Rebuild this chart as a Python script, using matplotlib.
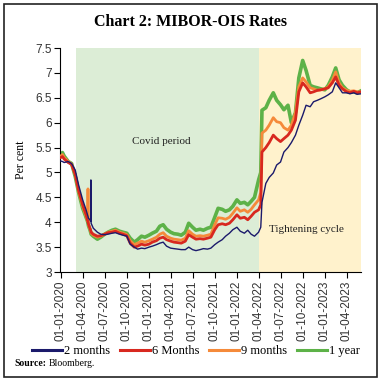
import pandas as pd
import matplotlib
matplotlib.use('Agg')
import matplotlib.pyplot as plt
import matplotlib.dates as mdates
from matplotlib.patches import Rectangle
from matplotlib.ticker import FormatStrFormatter

# dates (roughly semi-monthly, a few extra around the spikes / jump)
dates = ['2020-01-01', '2020-01-08', '2020-01-15', '2020-02-01', '2020-02-15', '2020-03-01',
         '2020-03-15', '2020-04-01', '2020-04-15', '2020-04-21', '2020-04-23', '2020-04-25',
         '2020-05-01', '2020-05-04', '2020-05-05', '2020-05-06', '2020-05-15', '2020-06-01',
         '2020-06-15', '2020-07-01', '2020-07-15', '2020-08-01', '2020-08-15', '2020-09-01',
         '2020-09-15', '2020-10-01', '2020-10-15', '2020-11-01', '2020-11-15', '2020-12-01',
         '2020-12-15',
         '2021-01-01', '2021-01-15', '2021-02-01', '2021-02-15', '2021-03-01', '2021-03-15',
         '2021-04-01', '2021-04-15', '2021-05-01', '2021-05-15', '2021-06-01', '2021-06-15',
         '2021-07-01', '2021-07-15', '2021-08-01', '2021-08-15', '2021-09-01', '2021-09-15',
         '2021-10-01', '2021-10-15', '2021-11-01', '2021-11-15', '2021-12-01', '2021-12-15',
         '2022-01-01', '2022-01-15', '2022-02-01', '2022-02-15', '2022-03-01', '2022-03-15',
         '2022-04-01', '2022-04-10', '2022-04-15', '2022-05-01', '2022-05-15', '2022-06-01',
         '2022-06-15', '2022-07-01', '2022-07-15', '2022-08-01', '2022-08-15', '2022-09-01',
         '2022-09-15', '2022-10-01', '2022-10-15', '2022-11-01', '2022-11-15', '2022-12-01',
         '2022-12-15',
         '2023-01-01', '2023-01-15', '2023-02-01', '2023-02-15', '2023-03-01', '2023-03-15',
         '2023-04-01', '2023-04-15', '2023-05-01', '2023-05-15', '2023-05-31']

m2 = [5.23, 5.22, 5.20, 5.22, 5.18, 5.05, 4.75, 4.45, 4.25, 4.15, 4.12, 4.08, 4.05, 4.02, 4.85, 3.98,
      3.88, 3.80, 3.76, 3.75, 3.76, 3.78, 3.79, 3.76, 3.74, 3.72, 3.56, 3.50, 3.46, 3.48, 3.47,
      3.50, 3.52, 3.55, 3.58, 3.60, 3.52, 3.48, 3.47, 3.46, 3.45, 3.45, 3.50, 3.45, 3.43, 3.45, 3.47,
      3.46, 3.48, 3.55, 3.60, 3.65, 3.72, 3.78, 3.85,
      3.90, 3.82, 3.78, 3.84, 3.76, 3.72, 3.80, 3.90, 4.40, 4.78, 4.90, 4.99, 5.15, 5.21, 5.41, 5.50,
      5.60, 5.75, 5.95, 6.15, 6.35, 6.32, 6.42, 6.45, 6.48,
      6.52, 6.56, 6.62, 6.80, 6.70, 6.60, 6.60, 6.58, 6.60, 6.57, 6.58]

m6 = [5.30, 5.32, 5.27, 5.20, 5.16, 4.96, 4.64, 4.35, 4.15, 4.04, 4.00, 3.96, 3.88, 3.84, 3.82, 3.80,
      3.76, 3.72, 3.73, 3.76, 3.79, 3.80, 3.82, 3.78, 3.76, 3.73, 3.58, 3.50, 3.52, 3.56, 3.54,
      3.56, 3.60, 3.63, 3.68, 3.70, 3.65, 3.62, 3.60, 3.59, 3.58, 3.62, 3.75, 3.70, 3.66, 3.67, 3.66,
      3.68, 3.70, 3.85, 3.95, 3.97, 3.95, 3.98, 4.05,
      4.15, 4.08, 4.10, 4.05, 4.12, 4.20, 4.25, 4.35, 5.41, 5.50, 5.60, 5.75, 5.68, 5.62, 5.68, 5.75,
      5.85, 6.05, 6.62, 6.80, 6.72, 6.60, 6.62, 6.65, 6.66,
      6.68, 6.70, 6.80, 6.92, 6.75, 6.68, 6.62, 6.60, 6.63, 6.60, 6.62]

m9 = [5.33, 5.36, 5.30, 5.22, 5.17, 4.95, 4.62, 4.32, 4.12, 4.02, 4.67, 3.95, 3.86, 3.82, 3.80, 3.78,
      3.74, 3.70, 3.72, 3.76, 3.80, 3.82, 3.84, 3.80, 3.78, 3.75, 3.63, 3.55, 3.58, 3.62, 3.60,
      3.63, 3.66, 3.70, 3.76, 3.79, 3.72, 3.68, 3.66, 3.65, 3.64, 3.68, 3.83, 3.76, 3.72, 3.73, 3.72,
      3.74, 3.76, 3.95, 4.09, 4.08, 4.06, 4.10, 4.18,
      4.29, 4.22, 4.25, 4.20, 4.26, 4.35, 4.45, 4.60, 5.79, 5.85, 5.95, 6.10, 6.02, 6.00, 5.90, 5.85,
      5.95, 6.20, 6.72, 6.90, 6.82, 6.70, 6.68, 6.65, 6.66,
      6.68, 6.72, 6.85, 7.02, 6.80, 6.70, 6.65, 6.63, 6.64, 6.62, 6.62]

y1 = [5.35, 5.40, 5.33, 5.22, 5.18, 4.92, 4.60, 4.28, 4.10, 4.02, 3.98, 3.93, 3.85, 3.80, 3.78, 3.76,
      3.72, 3.66, 3.70, 3.76, 3.80, 3.84, 3.86, 3.82, 3.80, 3.78, 3.68, 3.60, 3.65, 3.72, 3.70,
      3.74, 3.78, 3.82, 3.92, 3.95, 3.86, 3.80, 3.77, 3.76, 3.74, 3.80, 3.98, 3.90, 3.84, 3.86, 3.84,
      3.88, 3.90, 4.10, 4.28, 4.26, 4.22, 4.25, 4.32,
      4.45, 4.38, 4.40, 4.35, 4.42, 4.50, 4.85, 5.00, 6.25, 6.30, 6.45, 6.60, 6.45, 6.36, 6.26, 6.35,
      6.00, 6.20, 6.90, 7.25, 7.05, 6.75, 6.72, 6.70, 6.68,
      6.66, 6.75, 6.92, 7.10, 6.86, 6.75, 6.66, 6.62, 6.62, 6.60, 6.64]

labels = ['2 months', '6 Months', '9 months', '1 year']
colors = ['#1b1a6b', '#d8281f', '#f58a3a', '#5db248']
widths = [1.0, 2.0, 2.0, 2.6]

df = pd.DataFrame({'2 months': m2, '6 Months': m6, '9 months': m9, '1 year': y1},
                  index=pd.to_datetime(dates))

serif = 'Liberation Serif'
sans = 'Liberation Sans'

fig = plt.figure(figsize=(3.8, 3.81), dpi=100)
ax = fig.add_axes([0.158, 0.286, 0.792, 0.588])

# shaded periods
ax.axvspan(pd.Timestamp('2020-03-03'), pd.Timestamp('2022-04-01'), color='#dcedd6', lw=0, zorder=0)
ax.axvspan(pd.Timestamp('2022-04-01'), pd.Timestamp('2023-05-31'), color='#fff2cc', lw=0, zorder=0)

zs = [5, 4, 3, 2]
for lab, c, w, z in zip(labels, colors, widths, zs):
    ax.plot(df.index, df[lab], color=c, lw=w, label=lab, zorder=z)

ax.set_xlim(pd.Timestamp('2019-12-29'), pd.Timestamp('2023-05-31'))
ax.set_ylim(3, 7.5)
ax.set_yticks([3, 3.5, 4, 4.5, 5, 5.5, 6, 6.5, 7, 7.5])
ax.yaxis.set_major_formatter(FormatStrFormatter('%g'))
ax.set_xticks(pd.date_range('2020-01-01', '2023-04-01', freq='QS'))
ax.xaxis.set_major_formatter(mdates.DateFormatter('%d-%m-%Y'))
plt.setp(ax.get_xticklabels(), rotation=90, fontfamily=sans, fontsize=8.5, color='#333333')
plt.setp(ax.get_yticklabels(), fontfamily=sans, fontsize=8.5, color='#333333')
ax.tick_params(axis='both', direction='out', length=4, width=0.8, pad=2)
ax.spines['top'].set_visible(False)
ax.spines['right'].set_visible(False)
ax.set_ylabel('Per cent', fontfamily=serif, fontsize=8.5, labelpad=6)

ax.text(pd.Timestamp('2021-02-20'), 5.63, 'Covid period', fontfamily=serif, fontsize=8,
        ha='center', va='center', color='#222222')
ax.text(pd.Timestamp('2022-10-16'), 3.85, 'Tightening cycle', fontfamily=serif, fontsize=8,
        ha='center', va='center', color='#222222')

fig.text(0.5, 1 - 22 / 381, 'Chart 2: MIBOR-OIS Rates', fontfamily=serif, fontweight='bold',
         fontsize=11.5, ha='center', va='center')

handles, labs = ax.get_legend_handles_labels()
leg = fig.legend(handles, labs, loc='center', bbox_to_anchor=(0.515, 1 - 351 / 381), ncol=4,
                 frameon=False, handlelength=2.4, handletextpad=0.15, columnspacing=0.8,
                 prop={'family': serif, 'size': 9})
for h in leg.get_lines():
    h.set_linewidth(2.2)

fig.text(14 / 380, 1 - 364 / 381, 'Source:', fontfamily=serif, fontweight='bold', fontsize=7,
         ha='left', va='center')
fig.text(49 / 380, 1 - 364 / 381, 'Bloomberg.', fontfamily=serif, fontsize=7,
         ha='left', va='center')

fig.patches.append(Rectangle((4 / 380, 4 / 381), 373 / 380, 373 / 381, transform=fig.transFigure,
                             fill=False, edgecolor='#222222', lw=1.2))

fig.savefig('out.png', dpi=100)
